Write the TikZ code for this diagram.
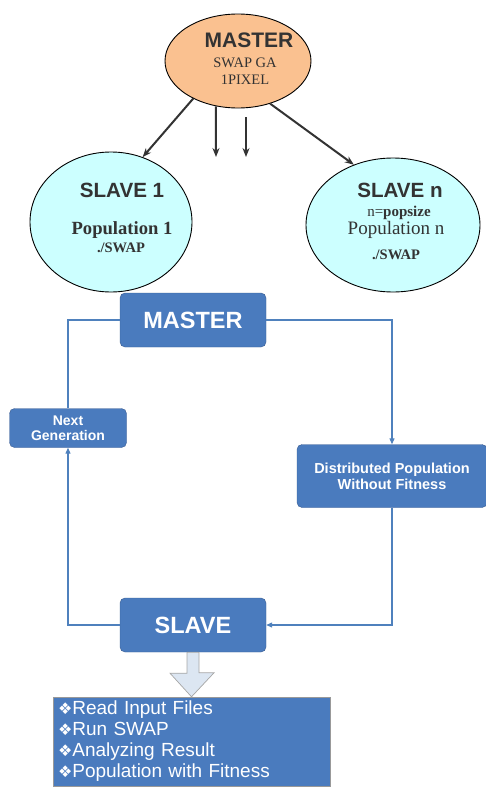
\documentclass[tikz,border=0pt]{standalone}
\usepackage{fontspec}
\setmainfont{Liberation Sans}
\newfontfamily\timesfont{Liberation Serif}
\newfontfamily\dingfont{DejaVu Sans}
\usetikzlibrary{shapes.geometric, arrows.meta}

\definecolor{peach}{RGB}{250,193,144}
\definecolor{paleCyan}{RGB}{204,255,255}
\definecolor{boxBlue}{RGB}{74,123,190}
\definecolor{boxEdge}{RGB}{58,92,145}
\definecolor{linkBlue}{RGB}{79,129,189}
\definecolor{darkText}{RGB}{51,51,51}
\definecolor{hollowFill}{RGB}{220,230,242}

\newcommand{\dia}{{\dingfont\fontsize{16}{16}\selectfont ❖}}
\newcommand{\fs}[1]{\fontsize{#1}{#1}\selectfont}

\begin{document}
\begin{tikzpicture}[x=1pt, y=-1pt,
    bubble/.style={ellipse, draw=black, line width=0.9pt, inner sep=0pt},
    txt/.style={inner sep=0pt, text=darkText},
    bluebox/.style={rectangle, rounded corners=5pt, draw=boxEdge, fill=boxBlue, text=white, align=center, inner sep=0pt},
    link/.style={draw=linkBlue, line width=1.2pt},
    tip/.style={-{Triangle[length=6pt, width=5pt]}},
    dark/.style={-{Stealth[length=9pt, width=7pt]}, line width=2pt, draw=darkText},
    hollow/.style={draw=gray!70, fill=hollowFill, line width=0.7pt, line join=miter}]
    \useasboundingbox (0, 0) rectangle (486, 787);

    \node[bubble, fill=peach, minimum width=146, minimum height=94] (0) at (238, 61) {};
    \node[bubble, fill=paleCyan, minimum width=162, minimum height=140] (1) at (111, 222) {};
    \node[bubble, fill=paleCyan, minimum width=174, minimum height=134] (2) at (393, 225) {};

    \node[txt, font=\fs{21}\bfseries] (3) at (249, 40) {MASTER};
    \node[txt, font=\timesfont\fs{14.5}] (4) at (245, 63) {SWAP GA};
    \node[txt, font=\timesfont\fs{14.5}] (5) at (245, 80) {1PIXEL};
    \node[txt, font=\fs{20.6}\bfseries] (6) at (122, 190) {SLAVE 1};
    \node[txt, font=\timesfont\fs{18.6}\bfseries] (7) at (122, 230) {Population 1};
    \node[txt, font=\timesfont\fs{14.5}\bfseries] (8) at (121, 248) {./SWAP};
    \node[txt, font=\fs{20.6}\bfseries] (9) at (400, 190) {SLAVE n};
    \node[txt, font=\timesfont\fs{15}] (10) at (399, 213) {n=\textbf{popsize}};
    \node[txt, font=\timesfont\fs{19}] (11) at (396, 230) {Population n};
    \node[txt, font=\timesfont\fs{14.5}\bfseries] (12) at (396, 255) {./SWAP};

    \coordinate (13) at (216, 157);
    \coordinate (14) at (246, 117);
    \coordinate (15) at (246, 157);
    \draw[dark] (0.220) -- (1.64);
    \draw[dark] (0.244) -- (13);
    \draw[dark] (14) -- (15);
    \draw[dark] (0.307) -- (2.123);

    \node[bluebox, minimum width=146, minimum height=54, font=\fs{23.5}\bfseries] (16) at (193, 320) {MASTER};
    \node[bluebox, minimum width=117, minimum height=39, font=\fontsize{14}{15.5}\selectfont\bfseries] (17) at (68, 428) {Next\\Generation};
    \node[bluebox, minimum width=190, minimum height=63, font=\fontsize{14.5}{16}\selectfont\bfseries] (18) at (392, 476) {Distributed Population\\Without Fitness};
    \node[bluebox, minimum width=146, minimum height=54, font=\fs{23.5}\bfseries] (19) at (193, 625) {SLAVE};
    \node[rectangle, draw=gray!80, fill=boxBlue, text=white, minimum height=89, text width=267, inner xsep=5, inner ysep=0, align=left, font=\fontsize{19}{21}\selectfont] (20) at (191.5, 741.5) {\dia Read Input Files\\\dia Run SWAP\\\dia Analyzing Result\\\dia Population with Fitness};

    \draw[link] (16.west) -| (17.north);
    \draw[link, tip] (16.east) -| (18.north);
    \draw[link, tip] (18.south) |- (19.east);
    \draw[link, tip] (19.west) -| (17.south);

    \draw[hollow] ([xshift=-6pt]19.south) -- ++(0, 21) -- ++(-17, 0) -- (20.north) -- ++(22.5, -24) -- ++(-15, 0) -- ([xshift=6pt]19.south) -- cycle;
\end{tikzpicture}
\end{document}
